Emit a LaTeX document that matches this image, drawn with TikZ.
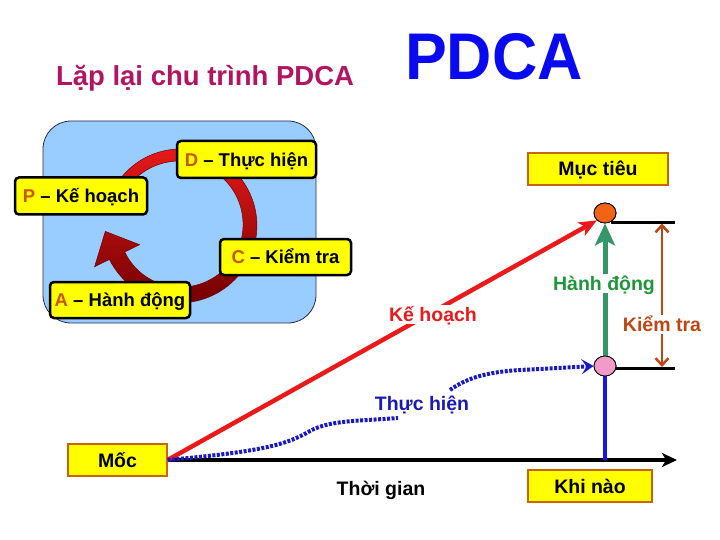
\documentclass[tikz,border=0pt]{standalone}
\usepackage{fontspec}
\setmainfont{Liberation Sans}
\usetikzlibrary{arrows.meta,shapes.geometric}
\definecolor{ttl}{RGB}{178,20,96}
\definecolor{pdca}{RGB}{10,10,240}
\definecolor{panel}{RGB}{153,204,255}
\definecolor{panelline}{RGB}{40,40,80}
\definecolor{ybox}{RGB}{255,255,0}
\definecolor{letter}{RGB}{200,85,0}
\definecolor{boxline}{RGB}{200,100,20}
\definecolor{plan}{RGB}{235,25,25}
\definecolor{act}{RGB}{55,150,105}
\definecolor{actt}{RGB}{30,150,60}
\definecolor{chk}{RGB}{190,70,20}
\definecolor{doo}{RGB}{25,25,180}
\definecolor{vblue}{RGB}{20,20,240}
\definecolor{dotblue}{RGB}{25,25,200}
\definecolor{orangeball}{RGB}{240,100,20}
\definecolor{pinkball}{RGB}{240,155,200}
\definecolor{darkred}{RGB}{115,0,0}
\definecolor{brightred}{RGB}{230,25,25}
\begin{document}
\begin{tikzpicture}[x=1pt,y=-1pt,
  cyclebox/.style={draw=black, line width=2.5pt, fill=ybox, rounded corners=4pt,
    font=\bfseries\fontsize{18.5}{20}\selectfont, text height=13.3pt, text depth=0pt, inner sep=0pt},
  chartbox/.style={draw=boxline, line width=1.2pt, fill=ybox,
    font=\bfseries\fontsize{19.5}{21}\selectfont, text height=14pt, text depth=0pt, inner sep=0pt},
  lbl/.style={font=\bfseries\fontsize{19.5}{21}\selectfont, text height=14pt, text depth=0pt, inner sep=2.5pt},
  ball/.style={ellipse, draw=black, line width=0.8pt, minimum width=22pt, minimum height=20pt, inner sep=0pt},
]
\useasboundingbox (0,0) rectangle (720,540);

% titles
\node[anchor=base, text=ttl, font=\bfseries\fontsize{27.5}{30}\selectfont] (title) at (205,86) {Lặp lại chu trình PDCA};
\node[anchor=base, text=pdca, font=\bfseries\fontsize{66}{70}\selectfont, xscale=0.95] (pdca) at (494,80) {PDCA};

% left panel
\draw[fill=panel, draw=panelline, line width=0.8pt, rounded corners=28pt] (43,121) rectangle (316,323);

% circular arrow
\path[top color=brightred, bottom color=darkred, draw=darkred, line width=0.5pt]
  plot[domain=220:514, samples=90] ({180+(75.5+3*(\x-220)/294)*cos(\x)},{225+(75.5+3*(\x-220)/294)*sin(\x)})
  -- (94.6,266.7) -- (105.3,231.4) -- (139.6,244.7)
  -- plot[domain=514:220, samples=90] ({180+(64.5-3*(\x-220)/294)*cos(\x)},{225+(64.5-3*(\x-220)/294)*sin(\x)})
  -- cycle;

\node[cyclebox, minimum width=139pt, minimum height=37pt] (D) at (246.5,159.5) {\textcolor{letter}{D} – Thực hiện};
\node[cyclebox, minimum width=132pt, minimum height=37pt] (P) at (81,196) {\textcolor{letter}{P} – Kế hoạch};
\node[cyclebox, minimum width=131pt, minimum height=36pt] (C) at (285.5,257) {\textcolor{letter}{C} – Kiểm tra};
\node[cyclebox, minimum width=140pt, minimum height=36pt] (A) at (120,300) {\textcolor{letter}{A} – Hành động};

% chart
\node[chartbox, minimum width=99pt, minimum height=32pt] (M) at (117.5,460) {Mốc};
\node[chartbox, minimum width=140pt, minimum height=32pt] (MT) at (598,169) {Mục tiêu};
\node[chartbox, minimum width=124pt, minimum height=32pt] (KN) at (590,486) {Khi nào};
\node[lbl] (TG) at (381,488) {Thời gian};

\node[ball, fill=orangeball] (O) at (605,213) {};
\node[ball, fill=pinkball] (K) at (605,366) {};

\coordinate (tl1) at (611,222.5);
\coordinate (tl2) at (675,222.5);
\coordinate (bl1) at (614,368);
\coordinate (bl2) at (675,368);
\coordinate (k1) at (662,223.5);
\coordinate (k2) at (662,367);
\coordinate (tend) at (677,460);
\coordinate (d1) at (398,418);
\coordinate (d2) at (450,390);

% axis
\draw[line width=4.5pt, -{Stealth[length=15pt,width=14pt,inset=4pt]}] (M.east) -- (tend);
% blue vertical
\draw[vblue, line width=3.5pt] (K.south) -- (K.south |- M.east);
% black level lines
\draw[line width=3pt] (tl1) -- (tl2);
\draw[line width=3pt] (bl1) -- (bl2);

% plan line
\draw[plan, line width=4.5pt, -{Stealth[length=18pt,width=15pt,inset=5pt]}] (M.east) -- (O.south west);
\node[lbl, fill=white, text=plan] (KH) at (433,314) {Kế hoạch};

% do curve
\draw[dotblue, line width=4pt, dash pattern=on 3pt off 1.5pt]
  (M.east) .. controls (255,452) and (285,446) .. (310,431) .. controls (330,420) and (360,421) .. (d1);
\draw[dotblue, line width=4pt, dash pattern=on 3pt off 1.5pt, -{Stealth[length=12pt,width=15pt,inset=5pt]}]
  (d2) .. controls (468,377) and (490,371) .. (530,369.5) -- (K.west);
\node[lbl, text=doo] (TH) at (422,403) {Thực hiện};

% act arrow
\draw[act, line width=5pt, -{Stealth[length=22pt,width=20pt,inset=5pt]}] (K.north) -- (O.south);
\node[lbl, fill=white, text=actt] (HD) at (604,283) {Hành động};

% check arrow
\draw[chk, line width=2.5pt, {Straight Barb[length=7pt,width=13pt]}-{Straight Barb[length=7pt,width=13pt]}] (k1) -- (k2);
\node[lbl, fill=white, text=chk] (KT) at (662,324) {Kiểm tra};

\node[ball, fill=orangeball] at (O) {};
\node[ball, fill=pinkball] at (K) {};
\end{tikzpicture}
\end{document}
